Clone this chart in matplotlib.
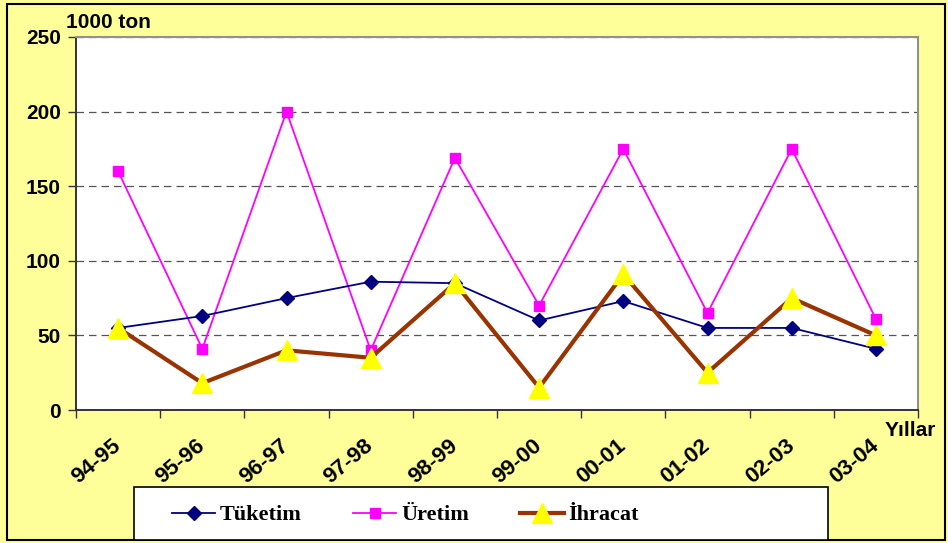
import matplotlib.pyplot as plt
import matplotlib.transforms as mtransforms
from matplotlib.patches import Rectangle
import numpy as np

yillar = ['94-95', '95-96', '96-97', '97-98', '98-99', '99-00',
          '00-01', '01-02', '02-03', '03-04']
tuketim = [55, 63, 75, 86, 85, 60, 73, 55, 55, 41]
uretim = [160, 41, 200, 40, 169, 70, 175, 65, 175, 61]
ihracat = [55, 18, 40, 35, 85, 15, 91, 25, 75, 50]

sari = '#FFFF99'
fig = plt.figure(figsize=(9.48, 5.43), dpi=100, facecolor=sari)
fig.add_artist(Rectangle((7 / 948, 3 / 543), 938 / 948, 536 / 543, transform=fig.transFigure,
                         fill=False, edgecolor='black', linewidth=1.5, zorder=0))

ax = fig.add_axes([76 / 948, 1 - 410 / 543, 842 / 948, 373 / 543])
ax.set_facecolor('white')
x = np.arange(len(yillar))

ax.plot(x, uretim, color='#FF00FF', linewidth=1.3, marker='s', markersize=7,
        markerfacecolor='#FF00FF', markeredgecolor='#FF00FF', label='Üretim', zorder=3)
ax.plot(x, tuketim, color='#000080', linewidth=1.3, marker='D', markersize=7,
        markerfacecolor='#000080', markeredgecolor='#000080', label='Tüketim', zorder=4)
ax.plot(x, ihracat, color='#993300', linewidth=3, marker='^', markersize=15,
        markerfacecolor='#FFFF00', markeredgecolor='#FFFF00', label='İhracat', zorder=5)

ax.set_xlim(-0.5, len(yillar) - 0.5)
ax.set_ylim(0, 250)
ax.set_yticks([0, 50, 100, 150, 200, 250])
ax.set_xticks(np.arange(-0.5, len(yillar), 1), minor=False)
ax.set_xticklabels([])
ax.set_xticks(x, minor=True)
ax.set_xticklabels(yillar, minor=True, rotation=40, ha='right', va='center',
                   rotation_mode='anchor', fontsize=16, fontweight='bold',
                   family='Liberation Sans')
shift = mtransforms.ScaledTranslation(-5 / 100, 0, fig.dpi_scale_trans)
for lbl in ax.get_xticklabels(minor=True):
    lbl.set_transform(lbl.get_transform() + shift)
ax.tick_params(axis='x', which='minor', length=0, pad=24)
ax.tick_params(axis='x', which='major', direction='out', length=6, width=1, color='#333333')
ax.tick_params(axis='y', direction='out', length=6, width=1, color='#333333', pad=5)
for lbl in ax.get_yticklabels():
    lbl.set_fontsize(15)
    lbl.set_fontweight('bold')
    lbl.set_family('Liberation Sans')

ax.yaxis.grid(True, linestyle=(0, (6, 4)), color='#555555', linewidth=0.9)
ax.set_axisbelow(True)
for s in ['left', 'bottom']:
    ax.spines[s].set_color('#333333')
    ax.spines[s].set_linewidth(1.4)
for s in ['top', 'right']:
    ax.spines[s].set_color('#909090')
    ax.spines[s].set_linewidth(1.5)

fig.text(66 / 948, 1 - 23 / 543, '1000 ton', fontsize=15, fontweight='bold',
         family='Liberation Sans', va='center', ha='left')
fig.text(885 / 948, 1 - 430 / 543, 'Yıllar', fontsize=15, fontweight='bold',
         family='Liberation Sans', va='center', ha='left')

# legend frame drawn separately, entries sit to the left inside it
fig.add_artist(Rectangle((134 / 948, 3 / 543), 694 / 948, 53 / 543, transform=fig.transFigure,
                         facecolor='white', edgecolor='black', linewidth=1.2, zorder=1))
h, l = ax.get_legend_handles_labels()
order = [1, 0, 2]
leg = fig.legend([h[i] for i in order], [l[i] for i in order], loc='center left',
                 bbox_to_anchor=(163 / 948, 1 - 515 / 543), ncol=3, frameon=False,
                 handlelength=1.95, handletextpad=0.22, columnspacing=2.3,
                 prop={'family': 'Liberation Serif', 'weight': 'bold', 'size': 16},
                 borderaxespad=0, markerscale=1.0)
leg.set_zorder(2)

fig.savefig('out.png', dpi=100, facecolor=sari)
